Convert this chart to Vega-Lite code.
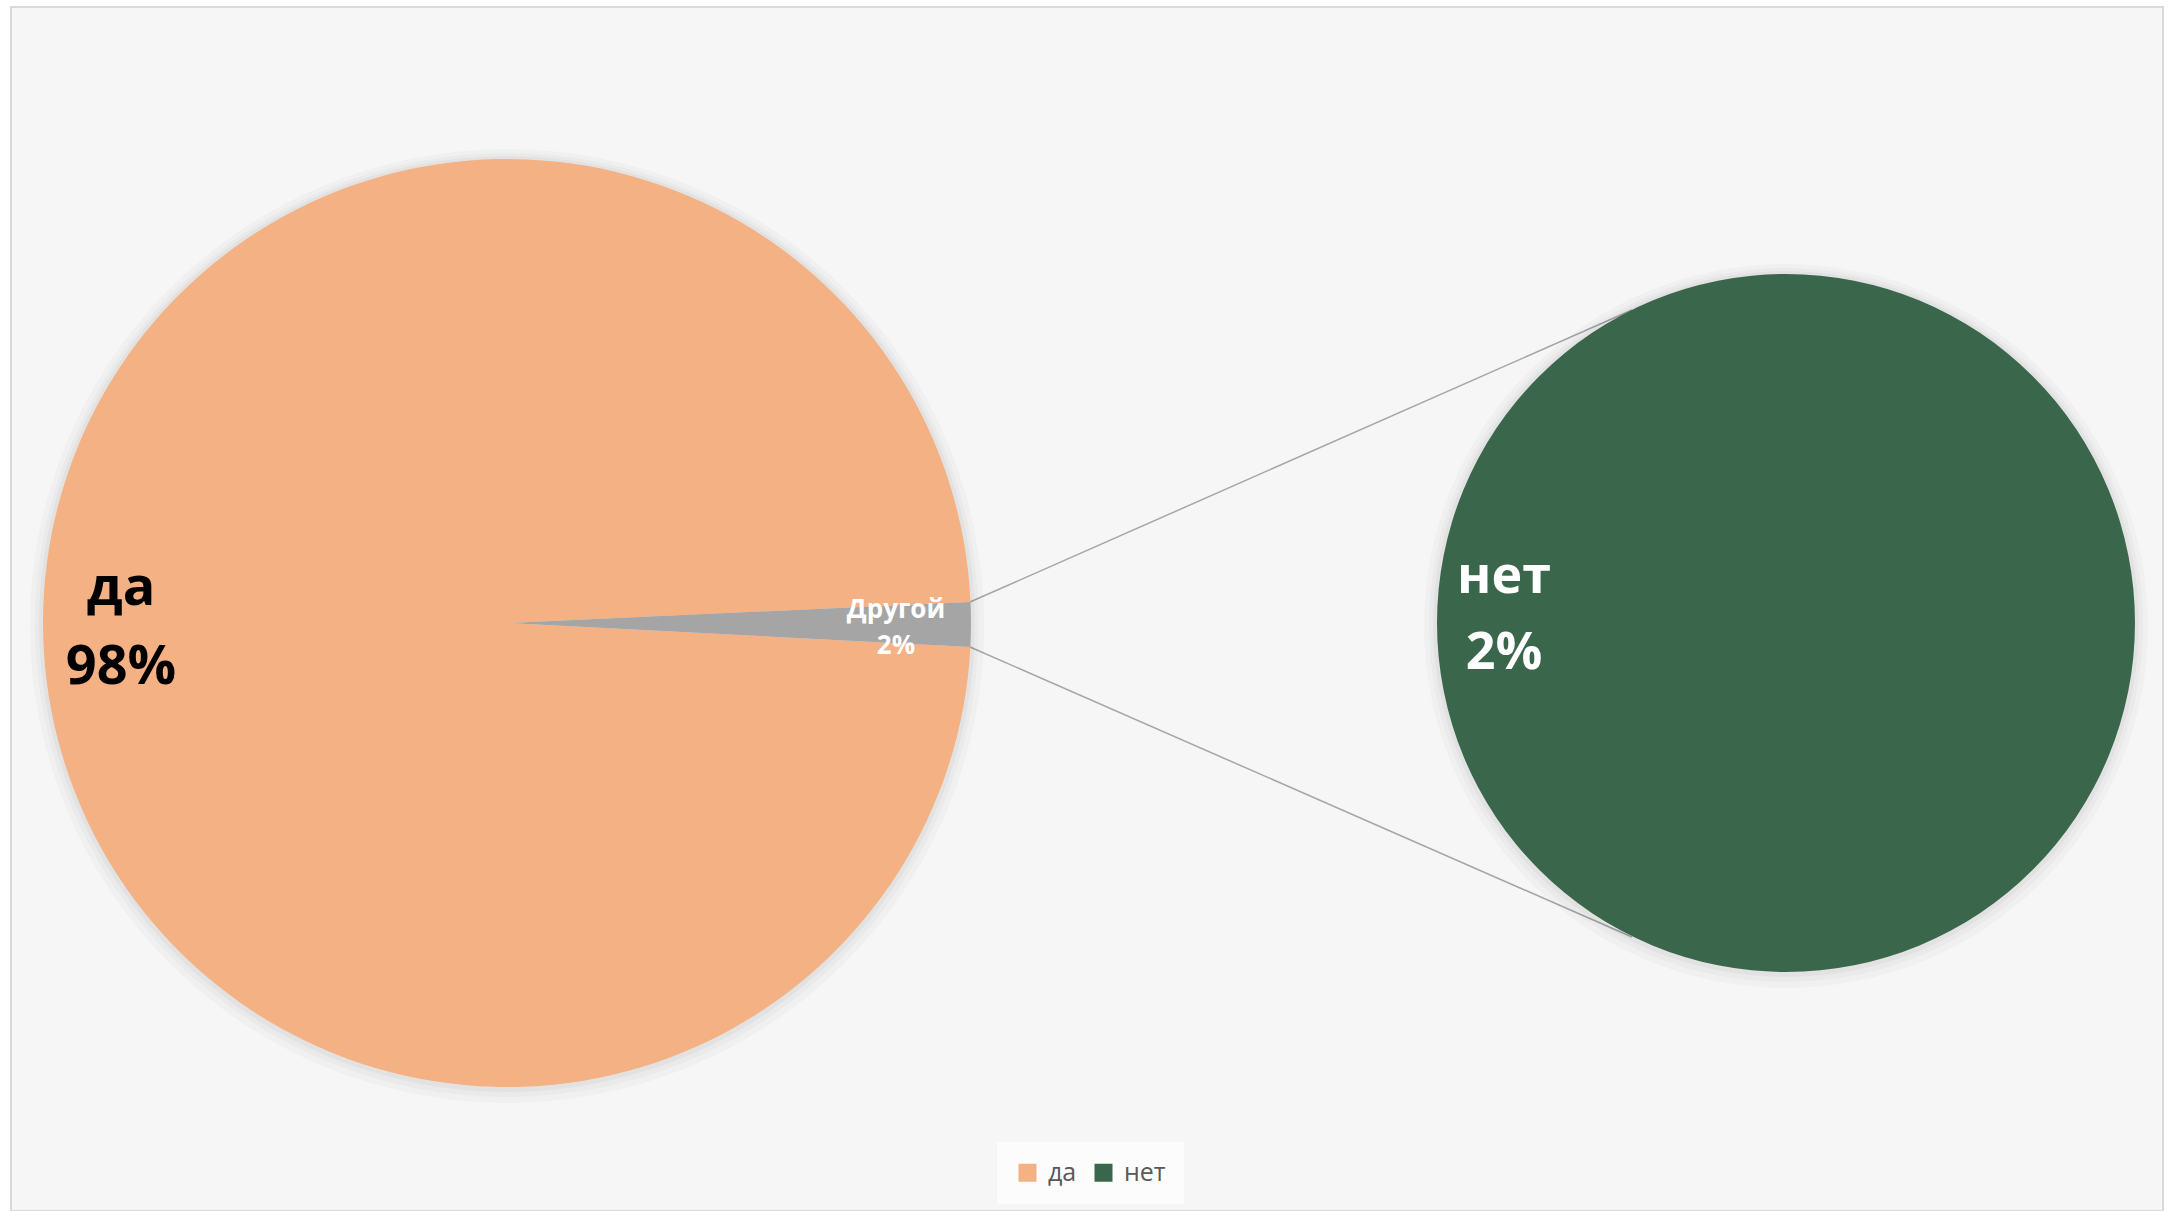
{
  "$schema": "https://vega.github.io/schema/vega-lite/v6.json",
  "width": 2152,
  "height": 1204,
  "padding": {"left": 11, "top": 7, "right": 11, "bottom": 0},
  "autosize": {"type": "none"},
  "background": "#ffffff",
  "config": {
    "view": {"fill": "#f6f6f6", "stroke": "#d9d9d9", "strokeWidth": 2},
    "font": "Open Sans"
  },
  "datasets": {
    "pies": [
      {"pie": "main", "category": "да", "share": 0.9845},
      {"pie": "main", "category": "Другой", "share": 0.0155},
      {"pie": "sub", "category": "нет", "share": 0.0155}
    ]
  },
  "data": {"name": "pies"},
  "resolve": {"scale": {"theta": "independent"}},
  "layer": [
    {
      "transform": [{"filter": "datum.pie === 'main' && datum.category === 'Другой'"}],
      "mark": {"type": "rule", "stroke": "#a6a6a6", "strokeWidth": 1.5},
      "encoding": {"x": {"value": 959}, "y": {"value": 595}, "x2": {"value": 1621}, "y2": {"value": 303}}
    },
    {
      "transform": [{"filter": "datum.pie === 'main' && datum.category === 'Другой'"}],
      "mark": {"type": "rule", "stroke": "#a6a6a6", "strokeWidth": 1.5},
      "encoding": {"x": {"value": 959}, "y": {"value": 640}, "x2": {"value": 1621}, "y2": {"value": 930}}
    },
    {
      "transform": [{"filter": "datum.pie === 'main'"}],
      "encoding": {
        "x": {"field": "pie", "type": "nominal", "scale": {"type": "point", "domain": ["main", "sub"], "range": [496, 1775], "padding": 0}, "axis": null},
        "y": {"field": "pie", "type": "nominal", "scale": {"type": "point", "domain": ["main", "sub"], "range": [616, 616], "padding": 0}, "axis": null}
      },
      "layer": [
        {
          "transform": [{"filter": "datum.category === 'да'"}],
          "mark": {"type": "arc", "theta": 0, "theta2": 6.2832, "radius": 477, "fill": "#000000", "opacity": 0.025, "yOffset": 3}
        },
        {
          "transform": [{"filter": "datum.category === 'да'"}],
          "mark": {"type": "arc", "theta": 0, "theta2": 6.2832, "radius": 472, "fill": "#000000", "opacity": 0.025, "yOffset": 2}
        },
        {
          "transform": [{"filter": "datum.category === 'да'"}],
          "mark": {"type": "arc", "theta": 0, "theta2": 6.2832, "radius": 468, "fill": "#000000", "opacity": 0.03, "yOffset": 1}
        },
        {
          "mark": {"type": "arc", "radius": 464},
          "encoding": {
            "theta": {"field": "share", "type": "quantitative", "stack": true, "scale": {"range": [1.5254, 7.8086]}},
            "order": {"field": "share", "type": "quantitative"},
            "color": {
              "field": "category", "type": "nominal",
              "scale": {"domain": ["да", "нет", "Другой"], "range": ["#f4b183", "#3a674c", "#a5a5a5"]},
              "legend": {
                "values": ["да", "нет"], "title": null, "orient": "none", "legendX": 986, "legendY": 1135,
                "direction": "horizontal", "symbolType": "square", "symbolSize": 324, "symbolStrokeWidth": 0,
                "labelFont": "Open Sans", "labelFontSize": 25, "labelColor": "#595959", "fillColor": "#fcfcfc",
                "padding": 18, "columnPadding": 14, "labelOffset": 8
              }
            }
          }
        },
        {
          "mark": {"type": "text", "radius": 386, "dy": -17, "baseline": "alphabetic", "fontSize": 54, "fontWeight": "bold", "fill": "#000000"},
          "encoding": {
            "theta": {"field": "share", "type": "quantitative", "stack": true, "scale": {"range": [1.5254, 7.8086]}},
            "order": {"field": "share", "type": "quantitative"},
            "text": {"field": "category", "type": "nominal"},
            "opacity": {"condition": {"test": "datum.category === 'да'", "value": 1}, "value": 0}
          }
        },
        {
          "mark": {"type": "text", "radius": 386, "dy": 62, "baseline": "alphabetic", "fontSize": 54, "fontWeight": "bold", "fill": "#000000"},
          "encoding": {
            "theta": {"field": "share", "type": "quantitative", "stack": true, "scale": {"range": [1.5254, 7.8086]}},
            "order": {"field": "share", "type": "quantitative"},
            "text": {"field": "share", "type": "quantitative", "format": ".0%"},
            "opacity": {"condition": {"test": "datum.category === 'да'", "value": 1}, "value": 0}
          }
        },
        {
          "mark": {"type": "text", "radius": 389, "dy": -6, "baseline": "alphabetic", "fontSize": 26, "fontWeight": "bold", "fill": "#ffffff"},
          "encoding": {
            "theta": {"field": "share", "type": "quantitative", "stack": true, "scale": {"range": [1.5254, 7.8086]}},
            "order": {"field": "share", "type": "quantitative"},
            "text": {"field": "category", "type": "nominal"},
            "opacity": {"condition": {"test": "datum.category === 'Другой'", "value": 1}, "value": 0}
          }
        },
        {
          "mark": {"type": "text", "radius": 389, "dy": 30, "baseline": "alphabetic", "fontSize": 26, "fontWeight": "bold", "fill": "#ffffff"},
          "encoding": {
            "theta": {"field": "share", "type": "quantitative", "stack": true, "scale": {"range": [1.5254, 7.8086]}},
            "order": {"field": "share", "type": "quantitative"},
            "text": {"field": "share", "type": "quantitative", "format": ".0%"},
            "opacity": {"condition": {"test": "datum.category === 'Другой'", "value": 1}, "value": 0}
          }
        }
      ]
    },
    {
      "transform": [{"filter": "datum.pie === 'sub'"}],
      "encoding": {
        "x": {"field": "pie", "type": "nominal", "scale": {"type": "point", "domain": ["main", "sub"], "range": [496, 1775], "padding": 0}, "axis": null},
        "y": {"field": "pie", "type": "nominal", "scale": {"type": "point", "domain": ["main", "sub"], "range": [616, 616], "padding": 0}, "axis": null}
      },
      "layer": [
        {
          "mark": {"type": "arc", "theta": 0, "theta2": 6.2832, "radius": 362, "fill": "#000000", "opacity": 0.025, "yOffset": 3}
        },
        {
          "mark": {"type": "arc", "theta": 0, "theta2": 6.2832, "radius": 357, "fill": "#000000", "opacity": 0.025, "yOffset": 2}
        },
        {
          "mark": {"type": "arc", "theta": 0, "theta2": 6.2832, "radius": 353, "fill": "#000000", "opacity": 0.03, "yOffset": 1}
        },
        {
          "mark": {"type": "arc", "radius": 349},
          "encoding": {
            "theta": {"field": "share", "type": "quantitative", "stack": true, "scale": {"range": [1.5708, 7.854]}},
            "color": {
              "field": "category", "type": "nominal",
              "scale": {"domain": ["да", "нет", "Другой"], "range": ["#f4b183", "#3a674c", "#a5a5a5"]},
              "legend": {
                "values": ["да", "нет"], "title": null, "orient": "none", "legendX": 986, "legendY": 1135,
                "direction": "horizontal", "symbolType": "square", "symbolSize": 324, "symbolStrokeWidth": 0,
                "labelFont": "Open Sans", "labelFontSize": 25, "labelColor": "#595959", "fillColor": "#fcfcfc",
                "padding": 18, "columnPadding": 14, "labelOffset": 8
              }
            }
          }
        },
        {
          "mark": {"type": "text", "radius": 282, "dy": -30, "baseline": "alphabetic", "fontSize": 52, "fontWeight": "bold", "fill": "#ffffff"},
          "encoding": {
            "theta": {"field": "share", "type": "quantitative", "stack": true, "scale": {"range": [1.5708, 7.854]}},
            "text": {"field": "category", "type": "nominal"}
          }
        },
        {
          "mark": {"type": "text", "radius": 282, "dy": 46, "baseline": "alphabetic", "fontSize": 52, "fontWeight": "bold", "fill": "#ffffff"},
          "encoding": {
            "theta": {"field": "share", "type": "quantitative", "stack": true, "scale": {"range": [1.5708, 7.854]}},
            "text": {"field": "share", "type": "quantitative", "format": ".0%"}
          }
        }
      ]
    }
  ]
}
